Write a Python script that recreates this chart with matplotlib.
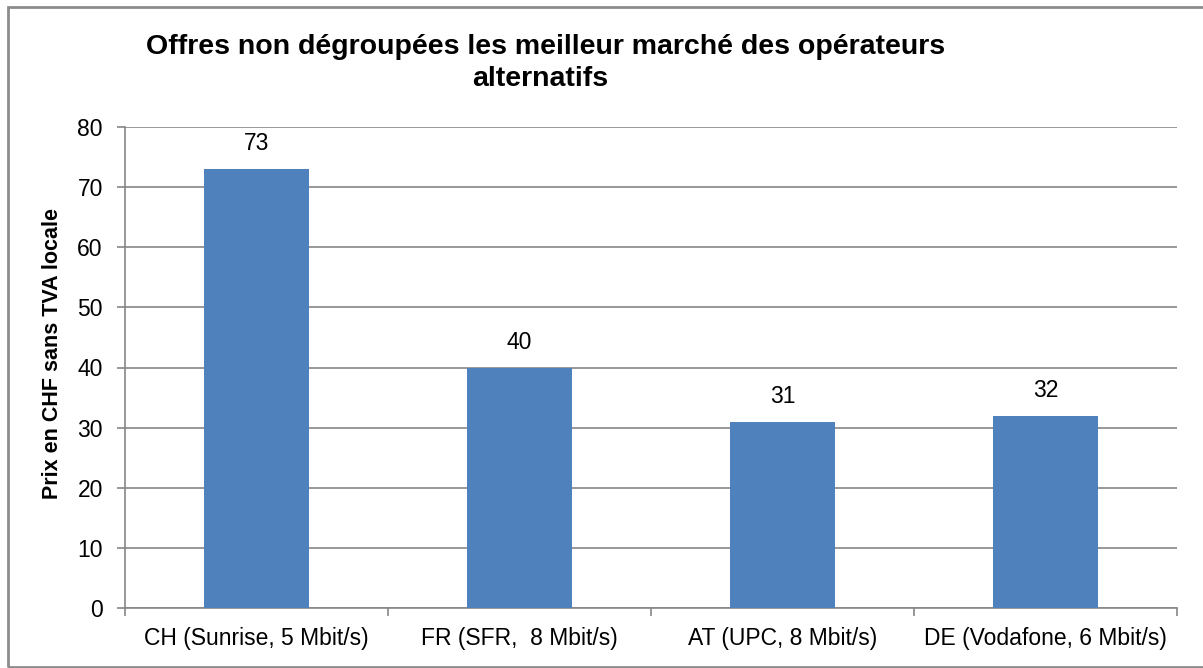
import matplotlib.pyplot as plt
from matplotlib.patches import Rectangle
import numpy as np

plt.rcParams['font.family'] = ['Liberation Sans', 'DejaVu Sans']

categories = ["CH (Sunrise, 5 Mbit/s)", "FR (SFR,  8 Mbit/s)",
              "AT (UPC, 8 Mbit/s)", "DE (Vodafone, 6 Mbit/s)"]
prices = [73, 40, 31, 32]

W, H = 1203, 668
fig = plt.figure(figsize=(W / 100, H / 100), dpi=100)
ax = fig.add_axes([125 / W, 1 - 608 / H, (1177 - 125) / W, (608 - 127) / H])

x = np.arange(len(categories))
bars = ax.bar(x, prices, width=0.4, color="#4F81BD", zorder=3)
for b, v in zip(bars, prices):
    ax.text(b.get_x() + b.get_width() / 2, v + 2.3, str(v),
            ha="center", va="bottom", fontsize=16.5)

ax.set_xlim(-0.5, len(categories) - 0.5)
ax.set_ylim(0, 80)
ax.set_yticks(range(0, 81, 10))
ax.yaxis.grid(True, color="#868686", linewidth=1.2, zorder=0)
ax.set_xticks(x)
ax.set_xticklabels(categories, fontsize=16.5)
ax.set_xticks(np.arange(-0.5, len(categories)), minor=True)
ax.tick_params(axis="x", which="major", length=0, pad=14)
ax.tick_params(axis="x", which="minor", length=6, color="#868686", width=1.2)
ax.tick_params(axis="y", length=6, color="#868686", width=1.2, labelsize=16.5, pad=10)

for s in ["top", "right"]:
    ax.spines[s].set_visible(False)
for s in ["left", "bottom"]:
    ax.spines[s].set_color("#868686")
    ax.spines[s].set_linewidth(1.2)

ax.set_ylabel("Prix en CHF sans TVA locale", fontsize=15.5, fontweight="bold")
ax.yaxis.set_label_coords(-0.059, 0.53)

fig.text(546 / W, 1 - 47 / H, "Offres non dégroupées les meilleur marché des opérateurs",
         ha="center", va="center", fontsize=20.5, fontweight="bold")
fig.text(540 / W, 1 - 79 / H, "alternatifs",
         ha="center", va="center", fontsize=20.5, fontweight="bold")

fig.patches.append(Rectangle((8 / W, 1 - 667 / H), 1.2, (667 - 7) / H,
                             transform=fig.transFigure, fill=False,
                             edgecolor="#8c8c8c", linewidth=2))

fig.savefig("out.png", dpi=100)
